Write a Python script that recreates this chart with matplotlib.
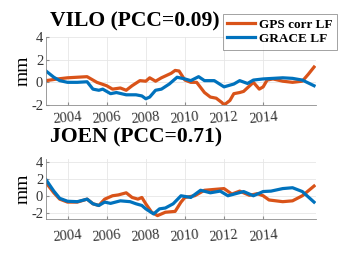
import numpy as np
import matplotlib
matplotlib.use('Agg')
import matplotlib.pyplot as plt

plt.rcParams['font.family'] = 'Liberation Serif'

# VILO (top panel)
vilo_gps_t = [2002.9, 2003.5, 2004.0, 2004.5, 2005.0, 2005.5, 2006.0, 2006.3, 2006.7, 2007.0,
              2007.3, 2007.7, 2008.0, 2008.2, 2008.5, 2008.8, 2009.3, 2009.5, 2009.7, 2010.0,
              2010.3, 2010.6, 2011.0, 2011.3, 2011.6, 2011.9, 2012.0, 2012.3, 2012.5, 2012.8,
              2013.0, 2013.5, 2013.8, 2014.0, 2014.2, 2014.5, 2015.0, 2015.5, 2016.0, 2016.3, 2016.6]
vilo_gps = [0.15, 0.3, 0.4, 0.45, 0.5, 0.0, -0.3, -0.6, -0.5, -0.7,
            -0.3, 0.15, 0.1, 0.4, 0.1, 0.4, 0.8, 1.05, 1.0, 0.2,
            0.0, 0.0, -0.9, -1.3, -1.4, -1.8, -2.0, -1.6, -1.0, -0.9,
            -0.8, 0.0, -0.6, -0.4, 0.2, 0.3, 0.1, 0.0, 0.1, 0.7, 1.35]
vilo_grace_t = [2002.9, 2003.3, 2003.6, 2004.0, 2004.5, 2005.0, 2005.3, 2005.6, 2005.8, 2006.2,
                2006.5, 2007.0, 2007.5, 2007.8, 2008.0, 2008.2, 2008.5, 2008.8, 2009.2, 2009.6,
                2010.0, 2010.3, 2010.7, 2011.0, 2011.5, 2012.0, 2012.5, 2012.8, 2013.2, 2013.5,
                2014.0, 2014.5, 2015.0, 2015.5, 2016.0, 2016.6]
vilo_grace = [1.0, 0.45, 0.15, 0.0, 0.0, 0.05, -0.6, -0.7, -0.6, -1.0,
              -0.9, -1.1, -1.1, -1.2, -1.45, -1.3, -0.7, -0.6, -0.15, 0.45,
              0.3, 0.15, 0.5, 0.15, 0.15, -0.4, -0.15, 0.15, -0.1, 0.2,
              0.3, 0.35, 0.4, 0.35, 0.2, -0.3]

# JOEN (bottom panel)
joen_gps_t = [2002.9, 2003.3, 2003.6, 2004.0, 2004.5, 2005.0, 2005.3, 2005.6, 2005.9, 2006.3,
              2006.6, 2007.0, 2007.3, 2007.6, 2007.8, 2008.0, 2008.3, 2008.6, 2009.0, 2009.5,
              2009.8, 2010.0, 2010.5, 2011.0, 2011.5, 2012.0, 2012.4, 2012.8, 2013.3, 2013.7,
              2014.0, 2014.3, 2015.0, 2015.5, 2016.0, 2016.6]
joen_gps = [1.6, 0.4, -0.35, -0.7, -0.7, -0.35, -0.9, -1.1, -0.35, 0.05,
            0.15, 0.4, -0.15, -0.35, -0.15, -0.9, -1.9, -2.3, -1.9, -1.8,
            -0.7, -0.15, 0.05, 0.7, 0.8, 0.9, 0.25, 0.6, 0.1, 0.3,
            0.05, -0.45, -0.65, -0.55, 0.05, 1.2]
joen_grace_t = [2002.9, 2003.3, 2003.6, 2004.0, 2004.5, 2005.0, 2005.3, 2005.6, 2005.9, 2006.2,
                2006.7, 2007.2, 2007.5, 2007.8, 2008.0, 2008.4, 2008.7, 2009.0, 2009.4, 2009.8,
                2010.3, 2010.8, 2011.3, 2011.8, 2012.2, 2012.6, 2013.0, 2013.5, 2014.0, 2014.4,
                2015.0, 2015.5, 2016.0, 2016.6]
joen_grace = [1.95, 0.6, -0.25, -0.6, -0.65, -0.35, -0.9, -1.1, -0.7, -0.85,
              -0.55, -0.65, -0.9, -1.1, -1.5, -2.1, -1.5, -1.4, -0.9, 0.05,
              -0.15, 0.7, 0.4, 0.6, 0.05, 0.3, 0.55, 0.05, 0.55, 0.6,
              0.9, 1.0, 0.55, -0.7]

xticks = [2004, 2006, 2008, 2010, 2012, 2014]
c_gps = '#D95319'
c_grace = '#0072BD'

fig = plt.figure(figsize=(3.49, 2.62), dpi=100)

def setup(ax, ylim, yticks, xpad):
	ax.set_xlim(2002.9, 2016.7)
	ax.set_ylim(*ylim)
	ax.set_xticks(xticks)
	ax.set_xticklabels([str(t) for t in xticks], rotation=5, fontsize=10.5)
	ax.set_yticks(yticks)
	ax.set_yticklabels([str(t) for t in yticks], fontsize=10.5)
	ax.grid(color='#e6e6e6', linewidth=0.6)
	ax.set_axisbelow(True)
	for s in ['top', 'right']:
		ax.spines[s].set_visible(False)
	for s in ['left', 'bottom']:
		ax.spines[s].set_color('#8c8c8c')
		ax.spines[s].set_linewidth(0.6)
	ax.tick_params(direction='in', length=2, color='#8c8c8c', pad=2, labelcolor='#333333')
	ax.tick_params(axis='x', pad=xpad)
	ax.set_ylabel('mm', fontsize=14, labelpad=0)

ax1 = fig.add_axes([46/349, 1-105/262, 270/349, 68/262])
ax1.plot(vilo_gps_t, vilo_gps, color=c_gps, lw=2.3, label='GPS corr LF')
ax1.plot(vilo_grace_t, vilo_grace, color=c_grace, lw=2.3, label='GRACE LF')
setup(ax1, (-2, 4), [-2, 0, 2, 4], 4)

ax2 = fig.add_axes([46/349, 1-219/262, 270/349, 60/262])
ax2.plot(joen_gps_t, joen_gps, color=c_gps, lw=2.3)
ax2.plot(joen_grace_t, joen_grace, color=c_grace, lw=2.3)
setup(ax2, (-2.7, 4.4), [-2, 0, 2, 4], 7)

fig.text(50/349, 1-21/262, 'VILO (PCC=0.09)', fontsize=15.6, fontweight='bold', va='center', ha='left')
fig.text(50/349, 1-137/262, 'JOEN (PCC=0.71)', fontsize=15.6, fontweight='bold', va='center', ha='left')

leg = fig.legend(loc='upper right', bbox_to_anchor=(337/349, 1-14/262),
                 prop={'weight': 'bold', 'size': 9.5}, frameon=True, fancybox=False,
                 handlelength=2.1, handletextpad=0.3, borderpad=0.35, labelspacing=0.15,
                 borderaxespad=0)
leg.get_frame().set_edgecolor('#777777')
leg.get_frame().set_linewidth(0.6)

fig.savefig('out.png', dpi=100)
